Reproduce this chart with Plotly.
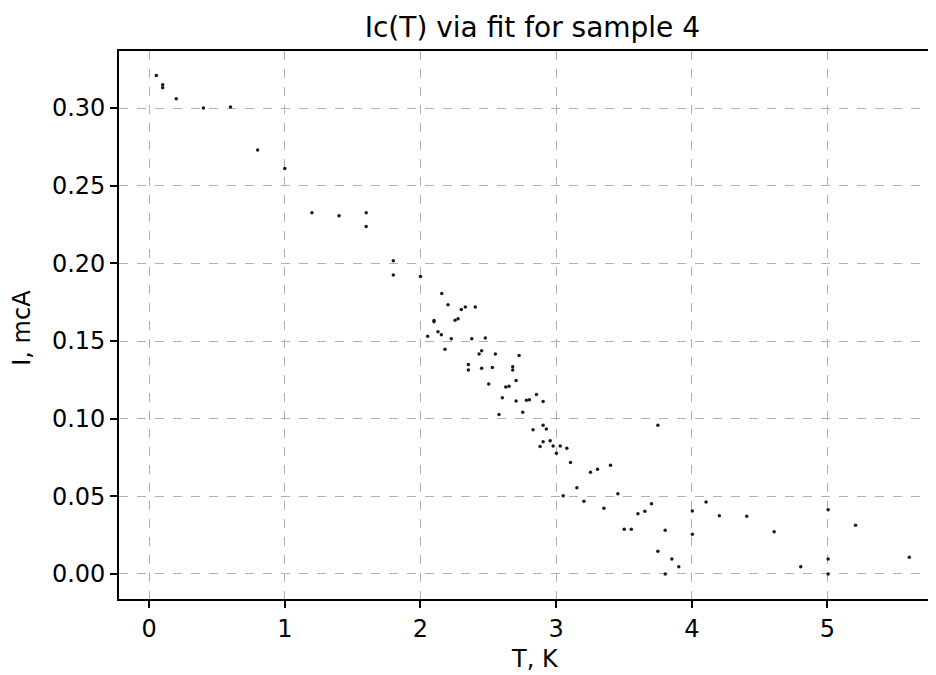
import plotly.graph_objects as go

T = [0.053, 0.10, 0.10, 0.20, 0.40, 0.60, 0.80, 1.00, 1.20, 1.40, 1.60, 1.60,
     1.80, 1.80, 2.00,
     2.157, 2.203, 2.301, 2.331, 2.404, 2.10, 2.10, 2.255, 2.277, 2.129, 2.154,
     2.053, 2.227, 2.378, 2.478, 2.181, 2.432, 2.451, 2.552, 2.727, 2.353, 2.353,
     2.451, 2.530, 2.680, 2.680, 2.705, 2.503, 2.629, 2.653, 2.855, 2.604, 2.705,
     2.781, 2.803, 2.904, 2.754, 2.579, 2.904, 2.928, 2.830, 2.904, 2.956, 2.882,
     2.978, 3.03, 3.079,
     3.002, 3.106, 3.750, 3.401, 3.305, 3.253, 3.153, 3.052, 3.455, 3.205, 3.703,
     3.352, 3.654, 3.603, 4.004, 4.105, 4.203, 3.502, 3.554, 3.804, 4.004, 3.750,
     3.853, 3.904, 3.804,
     4.405, 4.607, 4.803, 5.005, 5.005, 5.005, 5.207, 5.603]
I = [0.321, 0.315, 0.313, 0.306, 0.300, 0.3007, 0.273, 0.261, 0.2325, 0.2307, 0.2325, 0.2237,
     0.2016, 0.1925, 0.1915,
     0.1805, 0.1734, 0.1702, 0.1719, 0.1719, 0.1632, 0.1624, 0.1634, 0.1644, 0.156, 0.1541,
     0.1530, 0.1515, 0.1515, 0.152, 0.1447, 0.1417, 0.1438, 0.1417, 0.1406, 0.1348, 0.1314,
     0.1325, 0.1329, 0.1335, 0.1314, 0.1245, 0.1223, 0.1204, 0.1209, 0.1155, 0.1135, 0.1114,
     0.1118, 0.1122, 0.1110, 0.1041, 0.1026, 0.0957, 0.0934, 0.0929, 0.0852, 0.0858, 0.0820,
     0.0824, 0.0824, 0.0809,
     0.0777, 0.0717, 0.0957, 0.0700, 0.0674, 0.0655, 0.0556, 0.0504, 0.0517, 0.0468, 0.0453,
     0.0423, 0.0404, 0.0388, 0.0406, 0.0464, 0.0375, 0.0288, 0.0288, 0.0281, 0.0256, 0.0146,
     0.0097, 0.0047, 0.000,
     0.0371, 0.0272, 0.0047, 0.0414, 0.0097, 0.000, 0.0314, 0.0108]

x_ticks = [0, 1, 2, 3, 4, 5]
y_ticks = [0.00, 0.05, 0.10, 0.15, 0.20, 0.25, 0.30]
y_tick_labels = ["0.00", "0.05", "0.10", "0.15", "0.20", "0.25", "0.30"]

FONT = "DejaVu Sans"

fig = go.Figure()
fig.add_trace(go.Scatter(
    x=T, y=I, mode="markers",
    marker=dict(size=3.5, color="#1a1a1a", line=dict(width=0)),
    showlegend=False,
))

axis_common = dict(
    showline=True, linecolor="black", linewidth=1.6,
    ticks="outside", ticklen=7, tickwidth=1.6, tickcolor="black",
    showgrid=True, gridcolor="#b0b0b0", gridwidth=1, griddash="dash",
    zeroline=False, automargin=False,
    tickfont=dict(family=FONT, size=24, color="black"),
)

# The page body has an 8px margin, so the figure is sized to fit the 936x675 window.
fig.update_layout(
    width=928, height=667,
    paper_bgcolor="white", plot_bgcolor="white",
    margin=dict(l=111, r=0, t=43, b=76, autoexpand=False),
    font=dict(family=FONT, color="black"),
    title=dict(text="Ic(T) via fit for sample 4", x=0.506, xanchor="center",
               y=0.9705, yanchor="middle", xref="paper", yref="container",
               font=dict(family=FONT, size=28, color="black")),
    xaxis=dict(range=[-0.222, 5.80], tickvals=x_ticks, ticktext=[str(v) for v in x_ticks],
               mirror=True, **axis_common),
    yaxis=dict(range=[-0.0161, 0.3367], tickvals=y_ticks, ticktext=y_tick_labels,
               mirror=False, **axis_common),
    annotations=[
        dict(text="T, K", xref="paper", yref="paper", x=0.509, y=-0.1095,
             xanchor="center", yanchor="middle", showarrow=False,
             font=dict(family=FONT, size=24, color="black")),
        dict(text="I, mcA", xref="paper", yref="paper", x=-0.1187, y=0.495,
             xanchor="center", yanchor="middle", showarrow=False, textangle=-90,
             font=dict(family=FONT, size=24, color="black")),
    ],
)

fig.write_html("out.html")
